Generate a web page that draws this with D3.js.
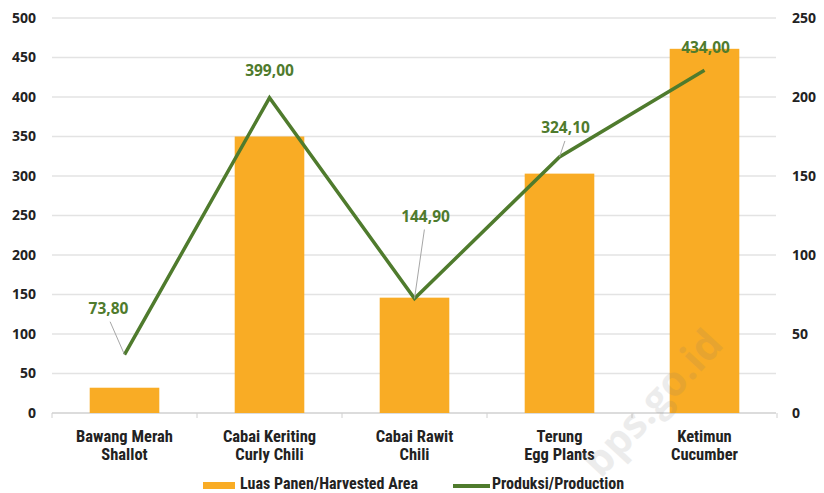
<!DOCTYPE html>
<html>
<head>
<meta charset="utf-8">
<script src="https://cdn.jsdelivr.net/npm/d3@7"></script>
<style>
  body { margin: 0; background: #fff; }
</style>
</head>
<body>
<div id="chart"></div>
<script>
const categories = [
  ["Bawang Merah", "Shallot"],
  ["Cabai Keriting", "Curly Chili"],
  ["Cabai Rawit", "Chili"],
  ["Terung", "Egg Plants"],
  ["Ketimun", "Cucumber"]
];
const harvestedArea = [32, 350, 146, 303, 461];
const production = [73.8, 399.0, 144.9, 324.1, 434.0];
const productionLabels = ["73,80", "399,00", "144,90", "324,10", "434,00"];
const leftTicks = [0, 50, 100, 150, 200, 250, 300, 350, 400, 450, 500];
const rightTicks = [0, 50, 100, 150, 200, 250];
const legendLabels = ["Luas Panen/Harvested Area", "Produksi/Production"];

const width = 824;
const height = 493;
const margin = { top: 18, right: 48, bottom: 80, left: 52 };

const svg = d3.select('#chart')
  .append('svg')
  .attr('width', width)
  .attr('height', height);

const orange = '#f9ac25';
const green = '#4f7b2d';
const numFont = '"Open Sans", "DejaVu Sans", sans-serif';
const catFont = '"Liberation Sans Narrow", "Roboto Condensed", "Open Sans", sans-serif';

const x = d3.scaleBand()
  .domain(d3.range(categories.length))
  .range([margin.left, width - margin.right + 1])
  .paddingInner(0.52)
  .paddingOuter(0.26);

const y = d3.scaleLinear()
  .domain([0, 500])
  .range([height - margin.bottom, margin.top]);

const yRight = d3.scaleLinear()
  .domain([0, 250])
  .range([height - margin.bottom, margin.top]);

// gridlines
svg.append('g')
  .selectAll('line')
  .data(leftTicks.slice(1))
  .enter()
  .append('line')
  .attr('x1', margin.left)
  .attr('x2', width - margin.right)
  .attr('y1', d => y(d))
  .attr('y2', d => y(d))
  .attr('stroke', '#e3e3e3')
  .attr('stroke-width', 1.5);

// left axis
const leftAxis = svg.append('g')
  .attr('transform', `translate(${margin.left - 16},0)`)
  .call(d3.axisLeft(y).tickValues(leftTicks).tickSize(0).tickPadding(0));
leftAxis.select('.domain').remove();
leftAxis.selectAll('text')
  .style('font-family', numFont)
  .style('font-size', '14px')
  .style('font-weight', 'bold')
  .style('fill', '#222');

// right axis
const rightAxis = svg.append('g')
  .attr('transform', `translate(${width - margin.right + 16},0)`)
  .call(d3.axisRight(yRight).tickValues(rightTicks).tickSize(0).tickPadding(0));
rightAxis.select('.domain').remove();
rightAxis.selectAll('text')
  .style('font-family', numFont)
  .style('font-size', '14px')
  .style('font-weight', 'bold')
  .style('fill', '#222');

// baseline with ticks between categories
svg.append('line')
  .attr('x1', margin.left)
  .attr('x2', width - margin.right)
  .attr('y1', y(0))
  .attr('y2', y(0))
  .attr('stroke', '#d0d0d0')
  .attr('stroke-width', 1.5);
svg.append('g')
  .selectAll('line')
  .data(d3.range(categories.length + 1))
  .enter()
  .append('line')
  .attr('x1', i => margin.left + i * x.step())
  .attr('x2', i => margin.left + i * x.step())
  .attr('y1', y(0))
  .attr('y2', y(0) + 5)
  .attr('stroke', '#d0d0d0')
  .attr('stroke-width', 1);

// bars
svg.selectAll('rect.bar')
  .data(harvestedArea)
  .enter()
  .append('rect')
  .attr('class', 'bar')
  .attr('x', (d, i) => x(i))
  .attr('y', d => y(d))
  .attr('width', x.bandwidth())
  .attr('height', d => y(0) - y(d))
  .attr('fill', orange);

// line
const cx = i => x(i) + x.bandwidth() / 2;
svg.append('path')
  .datum(production)
  .attr('d', d3.line().x((d, i) => cx(i)).y(d => y(d)))
  .attr('fill', 'none')
  .attr('stroke', green)
  .attr('stroke-width', 3.5)
  .attr('stroke-linejoin', 'miter');

// data labels: offsets relative to point [dx, dy] and whether a leader line is drawn
const labelOffsets = [[-16, -41, true], [0, -22, false], [11, -77, true], [6, -24, true], [1, -17, false]];
production.forEach((v, i) => {
  const [dx, dy, leader] = labelOffsets[i];
  const px = cx(i), py = y(v);
  if (leader) {
    svg.append('line')
      .attr('x1', px)
      .attr('y1', py)
      .attr('x2', px + dx * 0.9)
      .attr('y2', py + dy + 8)
      .attr('stroke', '#a6a6a6')
      .attr('stroke-width', 1);
  }
  svg.append('text')
    .attr('x', px + dx)
    .attr('y', py + dy)
    .attr('text-anchor', 'middle')
    .style('font-family', numFont)
    .style('font-size', '15.5px')
    .style('font-weight', 'bold')
    .style('fill', green)
    .text(productionLabels[i]);
});

// category labels
categories.forEach((lines, i) => {
  const t = svg.append('text')
    .attr('text-anchor', 'middle')
    .style('font-family', catFont)
    .style('font-size', '16.5px')
    .style('font-weight', 'bold')
    .style('fill', '#222');
  lines.forEach((s, j) => {
    t.append('tspan')
      .attr('x', cx(i))
      .attr('y', y(0) + 29 + j * 18)
      .text(s);
  });
});

// legend
const legend = svg.append('g').attr('transform', 'translate(203,485)');
legend.append('rect')
  .attr('x', 0).attr('y', -3)
  .attr('width', 32).attr('height', 7)
  .attr('fill', orange);
legend.append('text')
  .attr('x', 37).attr('y', 4)
  .style('font-family', catFont)
  .style('font-size', '16px')
  .style('font-weight', 'bold')
  .style('fill', '#222')
  .text(legendLabels[0]);
legend.append('line')
  .attr('x1', 250).attr('x2', 287)
  .attr('y1', 1).attr('y2', 1)
  .attr('stroke', green)
  .attr('stroke-width', 4);
legend.append('text')
  .attr('x', 289).attr('y', 4)
  .style('font-family', catFont)
  .style('font-size', '16px')
  .style('font-weight', 'bold')
  .style('fill', '#222')
  .text(legendLabels[1]);

// watermark on top, faint
svg.append('text')
  .attr('transform', 'translate(655,405) rotate(-47)')
  .attr('text-anchor', 'middle')
  .attr('dominant-baseline', 'middle')
  .style('font-family', numFont)
  .style('font-size', '41px')
  .style('font-weight', 'bold')
  .style('fill', '#777')
  .style('opacity', 0.13)
  .text('bps.go.id');
</script>
</body>
</html>
